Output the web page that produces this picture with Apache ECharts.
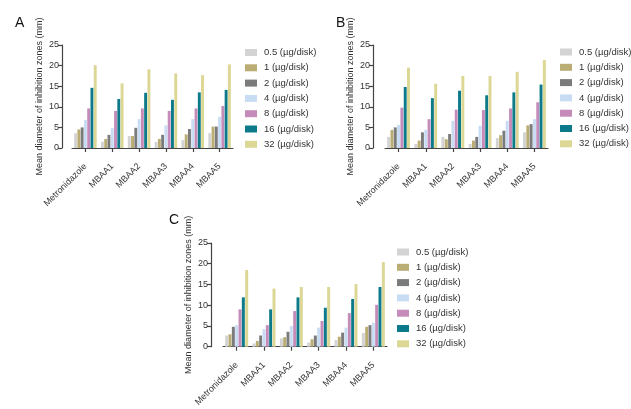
<!DOCTYPE html>
<html>
<head>
<meta charset="utf-8">
<script src="https://cdn.jsdelivr.net/npm/echarts@6/dist/echarts.min.js"></script>
<style>
  html, body { margin: 0; padding: 0; background: #fff; }
  #chart { width: 631px; height: 409px; }
</style>
</head>
<body>
<div id="chart"></div>
<script>
// ---- Data ----
const categories = ['Metronidazole', 'MBAA1', 'MBAA2', 'MBAA3', 'MBAA4', 'MBAA5'];
const doses = ['0.5 (µg/disk)', '1 (µg/disk)', '2 (µg/disk)', '4 (µg/disk)', '8 (µg/disk)', '16 (µg/disk)', '32 (µg/disk)'];
const yTicks = [0, 5, 10, 15, 20, 25];
const panelLabels = ['A', 'B', 'C'];
const yTitle = 'Mean diameter of inhibition zones (mm)';

// Panel A values per dose (across categories)
const A_d05 = [3.6, 1.5, 2.9, 1.5, 1.9, 3.6];
const A_d1  = [4.5, 2.2, 2.9, 2.2, 3.3, 5.2];
const A_d2  = [5.0, 3.2, 4.9, 3.2, 4.6, 5.2];
const A_d4  = [6.8, 4.8, 7.0, 5.5, 7.0, 7.6];
const A_d8  = [9.6, 9.0, 9.6, 9.0, 9.6, 10.2];
const A_d16 = [14.6, 11.9, 13.4, 11.7, 13.5, 14.1];
const A_d32 = [20.1, 15.7, 19.1, 18.1, 17.7, 20.3];

// Panel B
const B_d05 = [2.7, 1.0, 2.7, 1.0, 2.4, 3.8];
const B_d1  = [4.4, 1.8, 2.1, 1.8, 3.1, 5.5];
const B_d2  = [5.0, 3.8, 3.4, 2.7, 4.2, 5.8];
const B_d4  = [5.6, 4.4, 6.6, 5.4, 6.6, 7.0];
const B_d8  = [9.8, 7.0, 9.3, 9.2, 9.6, 11.1];
const B_d16 = [14.8, 12.1, 13.9, 12.8, 13.5, 15.4];
const B_d32 = [19.5, 15.6, 17.5, 17.5, 18.5, 21.4];

// Panel C
const C_d05 = [2.7, 0.8, 2.0, 1.0, 1.6, 3.3];
const C_d1  = [3.0, 1.4, 2.3, 1.8, 2.4, 4.8];
const C_d2  = [4.8, 2.7, 3.6, 2.7, 3.4, 5.2];
const C_d4  = [5.2, 4.2, 5.0, 4.6, 4.6, 5.8];
const C_d8  = [9.0, 5.2, 8.6, 6.2, 8.1, 10.1];
const C_d16 = [11.9, 9.0, 11.9, 9.4, 11.5, 14.4];
const C_d32 = [18.5, 14.0, 14.4, 14.4, 15.1, 20.4];

const panelData = [
  [A_d05, A_d1, A_d2, A_d4, A_d8, A_d16, A_d32],
  [B_d05, B_d1, B_d2, B_d4, B_d8, B_d16, B_d32],
  [C_d05, C_d1, C_d2, C_d4, C_d8, C_d16, C_d32]
];

// ---- Styles ----
const colors = ['#d3d3d3', '#b9ad74', '#7b7b7b', '#c8dcf3', '#c58cba', '#0d7a8b', '#dcd795'];
const FONT = 'Liberation Sans, Arial, sans-serif';
const axisColor = '#444';

const grids = [
  { left: 72, top: 45, width: 161, height: 103 },
  { left: 385, top: 45, width: 163, height: 103 },
  { left: 223, top: 243, width: 164, height: 105 }
];
const yOffsets = [10, 12, 12];
const legendPos = [
  { left: 245, top: 47 },
  { left: 560, top: 46.5 },
  { left: 397, top: 246.5 }
];
const letterPos = [
  { x: 15, y: 16 },
  { x: 336, y: 16 },
  { x: 169, y: 213 }
];

const option = {
  backgroundColor: '#fff',
  animation: false,
  textStyle: { fontFamily: FONT },
  grid: grids.map(g => Object.assign({ containLabel: false }, g)),
  xAxis: grids.map((g, i) => ({
    type: 'category',
    gridIndex: i,
    data: categories,
    offset: 12,
    axisLine: { show: true, lineStyle: { color: axisColor, width: 1.2 } },
    axisTick: { show: true, alignWithLabel: true, length: 4, lineStyle: { color: axisColor, width: 1.2 } },
    axisLabel: { rotate: 45, fontSize: 9, color: '#333', margin: 5, fontFamily: FONT, interval: 0 },
    splitLine: { show: false }
  })),
  yAxis: grids.map((g, i) => ({
    type: 'value',
    gridIndex: i,
    min: 0,
    max: 25,
    interval: 5,
    offset: yOffsets[i],
    name: yTitle,
    nameLocation: 'middle',
    nameRotate: 90,
    nameGap: 18,
    nameTextStyle: { fontSize: 9, color: '#333', fontFamily: FONT },
    axisLine: { show: true, lineStyle: { color: axisColor, width: 1.2 } },
    axisTick: { show: true, length: 4, lineStyle: { color: axisColor, width: 1.2 } },
    axisLabel: { fontSize: 9, color: '#333', margin: 3, fontFamily: FONT },
    splitLine: { show: false }
  })),
  legend: legendPos.map(p => ({
    left: p.left,
    top: p.top,
    padding: 0,
    orient: 'vertical',
    data: doses,
    itemWidth: 12,
    itemHeight: 7,
    itemGap: 4.3,
    icon: 'rect',
    selectedMode: false,
    textStyle: { fontSize: 9.5, color: '#333', lineHeight: 11, fontFamily: FONT, padding: [0, 0, 0, 2] }
  })),
  graphic: panelLabels.map((t, i) => ({
    type: 'text',
    left: letterPos[i].x,
    top: letterPos[i].y,
    style: { text: t, fontSize: 14, fill: '#111', fontFamily: FONT }
  })),
  series: []
};

panelData.forEach((arrs, p) => {
  arrs.forEach((vals, d) => {
    option.series.push({
      type: 'bar',
      name: doses[d],
      xAxisIndex: p,
      yAxisIndex: p,
      data: vals,
      barGap: '12%',
      barCategoryGap: '16%',
      itemStyle: { color: colors[d] }
    });
  });
});

const chart = echarts.init(document.getElementById('chart'), null, { renderer: 'canvas' });
chart.setOption(option);
</script>
</body>
</html>
